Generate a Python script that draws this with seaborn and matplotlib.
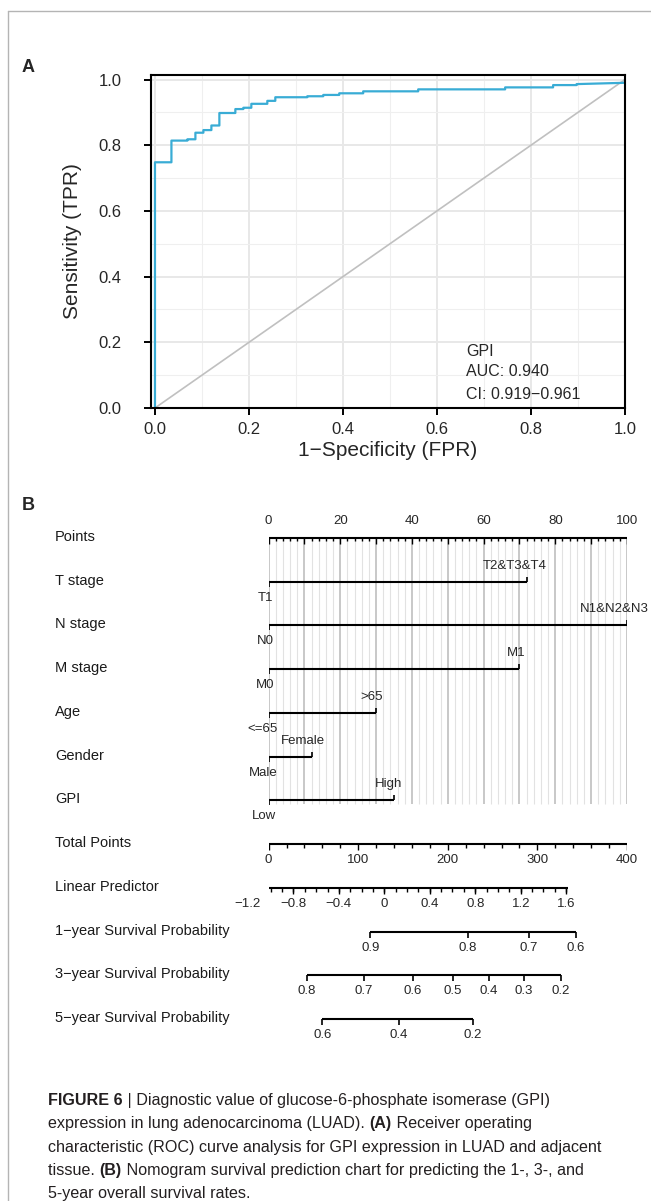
import numpy as np
import matplotlib.pyplot as plt
import seaborn as sns
from matplotlib.lines import Line2D
from matplotlib.transforms import blended_transform_factory

# ---- panel A: ROC curve of GPI (step vertices)
fpr = [0.0, 0.0, 0.035, 0.035, 0.069, 0.069, 0.086, 0.086, 0.103, 0.103,
       0.120, 0.120, 0.137, 0.137, 0.171, 0.171, 0.188, 0.188, 0.205, 0.205,
       0.239, 0.239, 0.256, 0.256, 0.324, 0.324, 0.358, 0.358, 0.392, 0.392,
       0.443, 0.443, 0.560, 0.560, 0.745, 0.745, 0.847, 0.847, 0.897, 0.897,
       1.0, 1.0]
tpr = [0.0, 0.748, 0.748, 0.814, 0.814, 0.818, 0.818, 0.838, 0.838, 0.846,
       0.846, 0.860, 0.860, 0.898, 0.898, 0.910, 0.910, 0.914, 0.914, 0.926,
       0.926, 0.935, 0.935, 0.946, 0.946, 0.949, 0.949, 0.953, 0.953, 0.958,
       0.958, 0.964, 0.964, 0.970, 0.970, 0.976, 0.976, 0.983, 0.983, 0.986,
       0.990, 1.0]
chance = [0.0, 1.0]
roc_text = ["GPI", "AUC: 0.940", "CI: 0.919\u22120.961"]

# ---- panel B: nomogram
row_names = ["Points", "T stage", "N stage", "M stage", "Age", "Gender", "GPI",
             "Total Points", "Linear Predictor",
             "1\u2212year Survival Probability",
             "3\u2212year Survival Probability",
             "5\u2212year Survival Probability"]
factor_low = ["T1", "N0", "M0", "<=65", "Male", "Low"]
factor_high = ["T2&T3&T4", "N1&N2&N3", "M1", ">65", "Female", "High"]
factor_points = [72, 100, 70, 30, 12, 35]

points_labels = [0, 20, 40, 60, 80, 100]
total_points_labels = [0, 100, 200, 300, 400]
lp_labels = [-1.2, -0.8, -0.4, 0, 0.4, 0.8, 1.2, 1.6]
lp_total_points = [-23, 27.5, 78.3, 129, 180, 230.6, 282, 332]
lp_end_total_points = [-39, 334]
surv1_labels = [0.9, 0.8, 0.7, 0.6]
surv1_total_points = [113.6, 222.3, 290.6, 342.6]
surv3_labels = [0.8, 0.7, 0.6, 0.5, 0.4, 0.3, 0.2]
surv3_total_points = [42.4, 106, 161, 205.8, 246, 285, 326]
surv5_labels = [0.6, 0.4, 0.2]
surv5_total_points = [60, 145.5, 227.8]

caption = [
    [("FIGURE 6", True), (" | Diagnostic value of glucose-6-phosphate isomerase (GPI)", False)],
    [("expression in lung adenocarcinoma (LUAD). ", False), ("(A)", True), (" Receiver operating", False)],
    [("characteristic (ROC) curve analysis for GPI expression in LUAD and adjacent", False)],
    [("tissue. ", False), ("(B)", True), (" Nomogram survival prediction chart for predicting the 1-, 3-, and", False)],
    [("5-year overall survival rates.", False)],
]

sns.set_style("white")
plt.rcParams['font.family'] = ['Liberation Sans', 'DejaVu Sans']

W, H = 651, 1201
fig = plt.figure(figsize=(W / 100, H / 100), dpi=100)

# page frame
fig.add_artist(Line2D([8 / W, 1], [1 - 11 / H] * 2, color='#b4b4b4', lw=1))
fig.add_artist(Line2D([8 / W] * 2, [0, 1 - 11 / H], color='#b4b4b4', lw=1))

fig.text(22 / W, 1 - 68 / H, "A", fontsize=13, fontweight='bold', va='center')
fig.text(22 / W, 1 - 505 / H, "B", fontsize=13, fontweight='bold', va='center')

# ---------------- panel A
ax = fig.add_axes([150.7 / W, 1 - 408 / H, (625 - 150.7) / W, (408 - 75) / H])
sns.lineplot(x=chance, y=chance, color='#c0c0c0', lw=1.2, ax=ax)
sns.lineplot(x=fpr, y=tpr, sort=False, estimator=None, color='#39acd5', lw=1.6, ax=ax)
ax.set_xlim(-0.0091, 1.0)
ax.set_ylim(0, 1.0137)
ax.set_xticks(np.arange(0, 1.01, 0.2))
ax.set_yticks(np.arange(0, 1.01, 0.2))
ax.set_xticks(np.arange(0.1, 1.0, 0.2), minor=True)
ax.set_yticks(np.arange(0.1, 1.0, 0.2), minor=True)
ax.set_axisbelow(True)
ax.grid(which='major', color='#e8e8e8', lw=1.4)
ax.grid(which='minor', color='#efefef', lw=0.8)
ax.tick_params(which='major', direction='out', length=5, width=1.4, color='black',
               labelsize=12, left=True, bottom=True)
ax.tick_params(which='minor', length=0)
ax.tick_params(axis='y', pad=16)
ax.tick_params(axis='x', pad=5)
ax.xaxis.set_major_formatter(lambda v, p: f"{v:.1f}")
ax.yaxis.set_major_formatter(lambda v, p: f"{v:.1f}")
for s in ax.spines.values():
    s.set_color('black')
    s.set_linewidth(1.5)
ax.set_xlabel("1\u2212Specificity (FPR)", fontsize=15)
ax.set_ylabel("Sensitivity (TPR)", fontsize=15)
ax.xaxis.set_label_coords(0.5, -0.1)
ax.yaxis.set_label_coords(-0.145, 0.5)
for txt, yy in zip(roc_text, [0.1735, 0.1096, 0.0426]):
    ax.text(0.662, yy, txt, fontsize=11.5, va='center', ha='left')

# ---------------- panel B
row_px = 43.73
axb = fig.add_axes([268.6 / W, 1 - 1041 / H, (627 - 268.6) / W, (1041 - 516) / H])
axb.set_xlim(0, 100)
axb.set_ylim(11.5, -0.5)
axb.axis('off')
u = 1 / row_px  # one pixel in row units
lab_tf = blended_transform_factory(fig.transFigure, axb.transData)
lw_axis = 1.5
ink = 'black'
tick_fs = 9.5

for i, name in enumerate(row_names):
    axb.text(55 / W, i - 1 * u, name, transform=lab_tf, fontsize=10.5, va='center', ha='left',
             color='#1a1a1a')

# grid
grid_x = np.arange(0, 101, 2)
for gx in grid_x:
    major = gx % 10 == 0
    axb.vlines(gx, 0, 6 + 4 * u, color='#c4c4c4' if major else '#e2e2e2',
               lw=1.3 if major else 0.8, zorder=0)

# points axis
axb.hlines(0, 0, 100, color=ink, lw=lw_axis)
for gx in grid_x:
    axb.vlines(gx, 0, (6 if gx % 10 == 0 else 3.5) * u, color=ink, lw=1)
for p in points_labels:
    axb.text(p, -17 * u, str(p), ha='center', va='center', fontsize=tick_fs)

# factor rows
fig.canvas.draw()
rend = fig.canvas.get_renderer()


def factor_label(x, y, s, dy):
    t = axb.annotate(s, xy=(x, y), xytext=(0, dy), textcoords='offset pixels',
                     ha='center', va='center', fontsize=tick_fs)
    w = t.get_window_extent(rend).width
    t.xyann = (-0.19 * w, dy)
    return t


for k in range(len(factor_points)):
    r = k + 1
    axb.hlines(r, 0, factor_points[k], color=ink, lw=lw_axis)
    axb.vlines(0, r, r + 5 * u, color=ink, lw=1.2)
    axb.vlines(factor_points[k], r, r - 5 * u, color=ink, lw=1.2)
    factor_label(0, r, factor_low[k], -16)
    factor_label(factor_points[k], r, factor_high[k], 16)

# total points
tp_scale = points_labels[-1] / total_points_labels[-1]
r = 7
axb.hlines(r, 0, 100, color=ink, lw=lw_axis)
for tp in np.arange(0, 401, 20):
    axb.vlines(tp * tp_scale, r, r + (6 if tp % 100 == 0 else 4) * u, color=ink, lw=1)
for tp in total_points_labels:
    axb.text(tp * tp_scale, r + 16 * u, str(tp), ha='center', va='center', fontsize=tick_fs)

# linear predictor
r = 8
axb.hlines(r, lp_end_total_points[0] * tp_scale, lp_end_total_points[1] * tp_scale,
           color=ink, lw=lw_axis)
lp_minor = np.arange(-1.3, 1.61, 0.1)
slope = (lp_total_points[-1] - lp_total_points[0]) / (lp_labels[-1] - lp_labels[0])
lp_minor_tp = lp_total_points[0] + (lp_minor - lp_labels[0]) * slope
for tp in lp_minor_tp:
    if lp_end_total_points[0] - 0.5 <= tp <= lp_end_total_points[1] + 0.5:
        axb.vlines(tp * tp_scale, r, r + 4 * u, color=ink, lw=1)
for v, tp in zip(lp_labels, lp_total_points):
    axb.vlines(tp * tp_scale, r, r + 6 * u, color=ink, lw=1)
    axb.text(tp * tp_scale, r + 16 * u, f"{v:g}".replace('-', '\u2212'), ha='center',
             va='center', fontsize=tick_fs)

# survival probabilities
for r, labs, tps in [(9, surv1_labels, surv1_total_points),
                     (10, surv3_labels, surv3_total_points),
                     (11, surv5_labels, surv5_total_points)]:
    axb.hlines(r, tps[0] * tp_scale, tps[-1] * tp_scale, color=ink, lw=lw_axis)
    for v, tp in zip(labs, tps):
        axb.vlines(tp * tp_scale, r, r + 6 * u, color=ink, lw=1.2)
        axb.text(tp * tp_scale, r + 16 * u, f"{v:g}", ha='center', va='center',
                 fontsize=tick_fs)

# ---------------- caption
cap_ax = fig.add_axes([0, 0, 1, 1])
cap_ax.axis('off')
cap_fs = 11.6
for j, runs in enumerate(caption):
    y = 1 - (1105 + 23.3 * j) / H
    prev = None
    for s, bold in runs:
        kw = dict(fontsize=cap_fs, color='#231f20',
                  fontweight='bold' if bold else 'normal')
        if prev is None:
            prev = cap_ax.text(48 / W, y, s, transform=fig.transFigure, ha='left',
                               va='baseline', **kw)
        else:
            prev = cap_ax.annotate(s, xy=(1, 0), xycoords=prev, ha='left', va='bottom', **kw)

fig.savefig("out.png", dpi=100)
